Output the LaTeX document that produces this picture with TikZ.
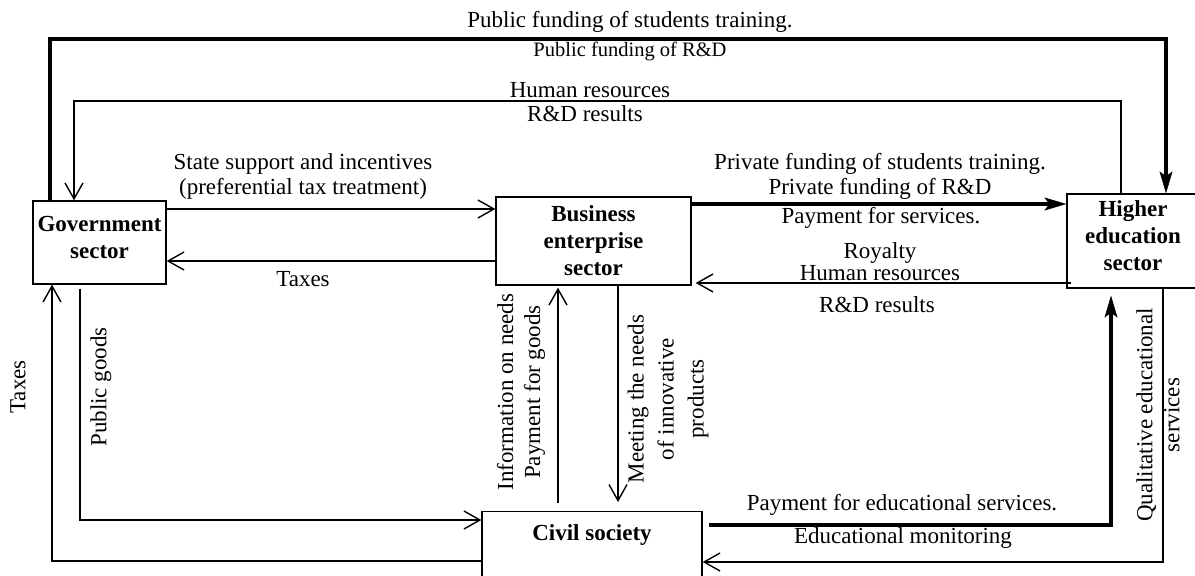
\documentclass[tikz,border=0pt]{standalone}
\usepackage{fontspec}
\setmainfont{Liberation Serif}
\usetikzlibrary{arrows.meta}
\begin{document}
\begin{tikzpicture}[x=1pt,y=-1pt,
  box/.style={draw, line width=1.3pt, align=center, font=\bfseries\fontsize{23}{27}\selectfont, inner sep=0pt},
  lbl/.style={font=\fontsize{23}{25}\selectfont, align=center, inner sep=0pt},
  thinarr/.style={line width=1.4pt, -{Straight Barb[length=16pt,width=18pt]}},
  thickarr/.style={line width=4.5pt, -{Stealth[length=22pt,width=13pt,inset=5pt,line width=0.5pt]}},
]
\useasboundingbox (0,0) rectangle (1195,576);

% boxes
\node[box, minimum width=133pt, minimum height=83pt] (gov) at (99.5,242.5) {Government\\sector\rule[-11pt]{0pt}{0pt}};
\node[box, minimum width=195pt, minimum height=88pt] (bus) at (593.5,241) {Business\\enterprise\\sector};
\node[box, minimum width=132pt, minimum height=94pt] (hes) at (1133,241) {Higher\\education\\sector\rule[-10pt]{0pt}{0pt}};
\node[box, minimum width=220pt, text height=15pt, text depth=80pt, inner ysep=14pt, anchor=north] (civ) at (592,511) {Civil society};

% connectors
\draw[thickarr] (50,0 |- gov.north) -- (50,39) -- (1166,39) -- (1166,0 |- hes.north);
\draw[thinarr] (1121,0 |- hes.north) -- (1121,101) -- (74,101) -- (74,0 |- gov.north);
\draw[thinarr] (gov.east |- 0,209) -- (bus.west |- 0,209);
\draw[thinarr] (bus.west |- 0,261) -- (gov.east |- 0,261);
\draw[thickarr] (bus.east |- 0,204) -- (hes.west |- 0,204);
\draw[thinarr, shorten >=4pt] ([xshift=5pt]hes.west |- 0,283) -- (bus.east |- 0,283);
\draw[thinarr, shorten >=9pt] (618,0 |- bus.south) -- (618,0 |- civ.north);
\draw[thinarr, shorten <=8pt, shorten >=2pt] (558,0 |- civ.north) -- (558,0 |- bus.south);
\draw[thinarr, shorten <=4pt] (80,0 |- gov.south) -- (80,520) -- (civ.west |- 0,520);
\draw[thinarr] (civ.west |- 0,561) -- (52,561) -- (52,0 |- gov.south);
\draw[thickarr, shorten <=6pt, shorten >=7pt] (civ.east |- 0,525) -- (1111,525) -- (1111,0 |- hes.south);
\draw[thinarr] (1163,0 |- hes.south) -- (1163,562) -- (civ.east |- 0,562);

% labels
\node[lbl] (t1) at (630,22) {Public funding of students training.};
\node[lbl, font=\fontsize{20.5}{22}\selectfont] (t2) at (630,51) {Public funding of R\&D};
\node[lbl] (t3) at (590,90) {Human resources};
\node[lbl] (t4) at (585,114) {R\&D results};
\node[lbl] (t5) at (303,176) {State support and incentives\\(preferential tax treatment)};
\node[lbl] (t6) at (303,279) {Taxes};
\node[lbl] (t7) at (880,176) {Private funding of students training.\\Private funding of R\&D};
\node[lbl] (t8) at (881,218) {Payment for services.};
\node[lbl, font=\fontsize{23}{22}\selectfont] (t9) at (880,262) {Royalty\\Human resources};
\node[lbl] (t10) at (877,305) {R\&D results};
\node[lbl, rotate=90] (t11) at (18,387) {Taxes};
\node[lbl, rotate=90] (t12) at (101,387) {Public goods};
\node[lbl, rotate=90, font=\fontsize{23}{27}\selectfont] (t13) at (521,392) {Information on needs\\Payment for goods};
\node[lbl, rotate=90, font=\fontsize{23}{30}\selectfont] (t14) at (668,399) {Meeting the needs\\of innovative\\products};
\node[lbl, rotate=90, font=\fontsize{23}{27}\selectfont] (t15) at (1158,415) {Qualitative educational\\services};
\node[lbl] (t16) at (902,505) {Payment for educational services.};
\node[lbl] (t17) at (903,538) {Educational monitoring};
\end{tikzpicture}
\end{document}
